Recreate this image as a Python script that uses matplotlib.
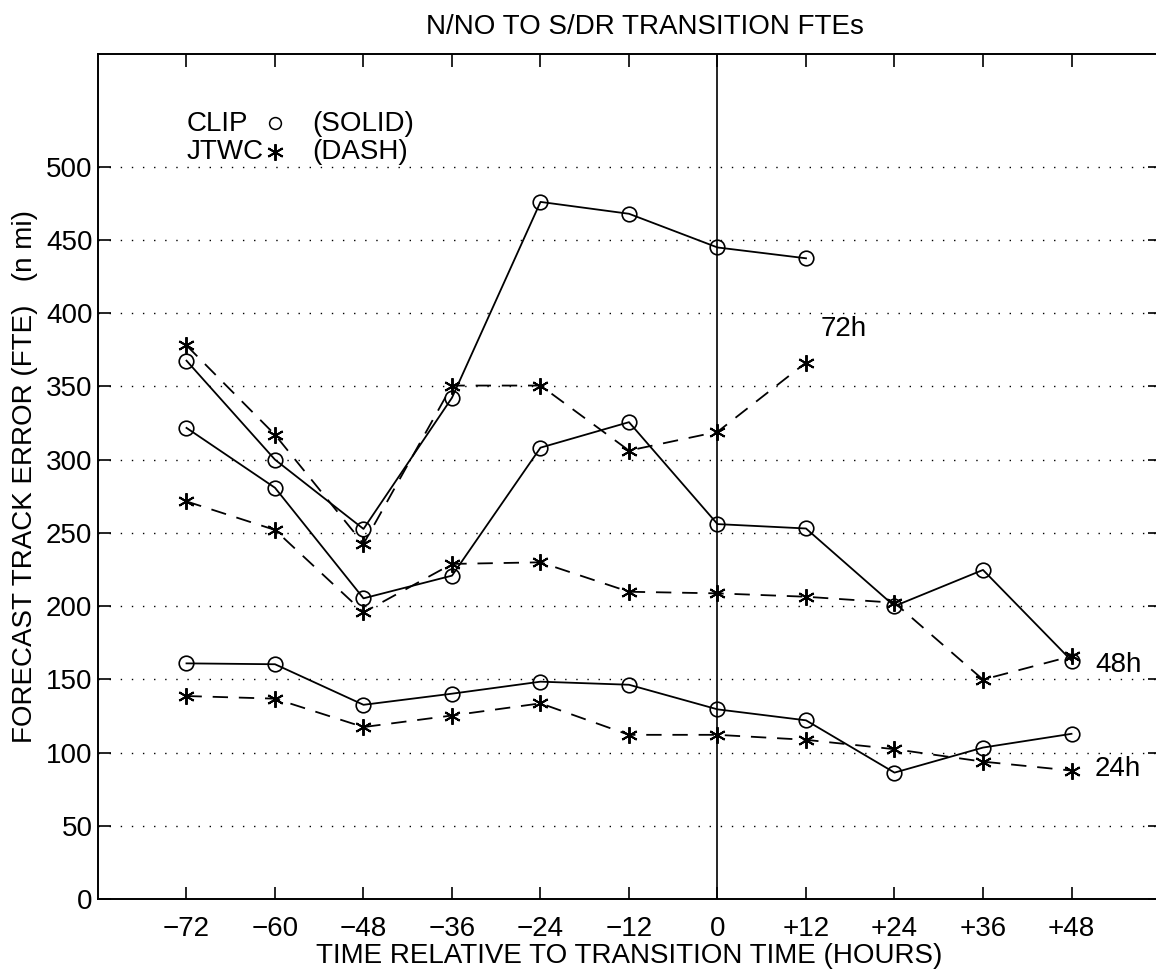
import matplotlib
matplotlib.use("Agg")
import matplotlib.pyplot as plt
import numpy as np

plt.rcParams['font.family'] = ['Liberation Sans', 'DejaVu Sans']

# forecast hours relative to transition time
hours = [-72, -60, -48, -36, -24, -12, 0, 12, 24, 36, 48]
hours_72 = [-72, -60, -48, -36, -24, -12, 0, 12]
tick_labels = ['\u221272', '\u221260', '\u221248', '\u221236', '\u221224', '\u221212',
               '0', '+12', '+24', '+36', '+48']

# forecast track errors (n mi)
clip_24 = [160.9, 160.3, 132.6, 140.2, 148.4, 146.3, 129.5, 122.0, 86.3, 103.4, 112.8]
jtwc_24 = [138.6, 136.8, 117.4, 125.3, 133.6, 112.1, 112.1, 108.7, 102.3, 93.8, 87.7]
clip_48 = [321.7, 280.8, 205.3, 220.8, 308.2, 325.6, 256.0, 253.0, 200.0, 224.7, 162.8]
jtwc_48 = [271.5, 252.0, 195.7, 228.8, 229.9, 209.8, 208.7, 206.4, 202.3, 149.8, 165.8]
clip_72 = [367.6, 300.0, 252.7, 342.3, 476.0, 467.9, 444.9, 437.5]
jtwc_72 = [378.0, 317.0, 242.5, 350.6, 350.6, 306.2, 319.0, 366.3]

# lead time labels: (text, x, y)
lead_labels = [('72h', 14.0, 389), ('48h', 51.2, 160), ('24h', 51.1, 89)]

fig = plt.figure(figsize=(11.56, 9.73), dpi=100)
ax = fig.add_axes([98 / 1156, 74 / 973, 1062 / 1156, 845 / 973])

fs = 20
asterisk = (6, 2, 0)
clip_style = dict(color='black', linewidth=1.3, marker='o', markersize=10.5,
                  markerfacecolor='none', markeredgecolor='black', markeredgewidth=1.2)
jtwc_style = dict(color='black', linewidth=1.3, dashes=(8.5, 6), marker=asterisk,
                  markersize=12, markeredgecolor='black', markeredgewidth=1.4)

for clip, jtwc, h in [(clip_24, jtwc_24, hours), (clip_48, jtwc_48, hours),
                      (clip_72, jtwc_72, hours_72)]:
    ax.plot(h, clip, **clip_style)
    ax.plot(h, jtwc, **jtwc_style)

# transition time marker
ax.axvline(0, color='black', linewidth=1.2)

for txt, x, y in lead_labels:
    ax.text(x, y, txt, fontsize=fs, ha='left', va='center')

# legend written as text like the original
ax.text(-72, 529.5, 'CLIP', fontsize=fs, ha='left', va='center')
ax.text(-72, 510, 'JTWC', fontsize=fs, ha='left', va='center')
ax.plot([-60], [530], marker='o', markersize=8.5, markerfacecolor='none',
        markeredgecolor='black', markeredgewidth=1.1, linestyle='none')
ax.plot([-60], [510], marker=asterisk, markersize=12, markeredgecolor='black',
        markeredgewidth=1.4, linestyle='none')
ax.text(-55, 529.5, '(SOLID)', fontsize=fs, ha='left', va='center')
ax.text(-55, 510, '(DASH)', fontsize=fs, ha='left', va='center')

ax.set_xlim(-84, 60)
ax.set_ylim(0, 577)
ax.set_xticks(hours)
ax.set_xticklabels(tick_labels, fontsize=fs)
ax.set_yticks(np.arange(0, 501, 50))
ax.tick_params(axis='y', labelsize=fs, pad=4)
ax.tick_params(axis='x', pad=12)
ax.tick_params(direction='in', length=9, width=1.2, top=True, right=True)

for yv in np.arange(50, 501, 50):
    ax.axhline(yv, color='black', linewidth=1.0, linestyle=(0, (1, 7)), zorder=0)

for sp in ax.spines.values():
    sp.set_linewidth(1.4)

ax.set_xlabel('TIME RELATIVE TO TRANSITION TIME (HOURS)', fontsize=fs, labelpad=1)
ax.set_ylabel('FORECAST TRACK ERROR (FTE)   (n mi)', fontsize=fs, labelpad=6)
fig.text(0.558, 1 - 27 / 973, 'N/NO TO S/DR TRANSITION FTEs', fontsize=fs,
         ha='center', va='center')

fig.savefig('out.png', dpi=100)
